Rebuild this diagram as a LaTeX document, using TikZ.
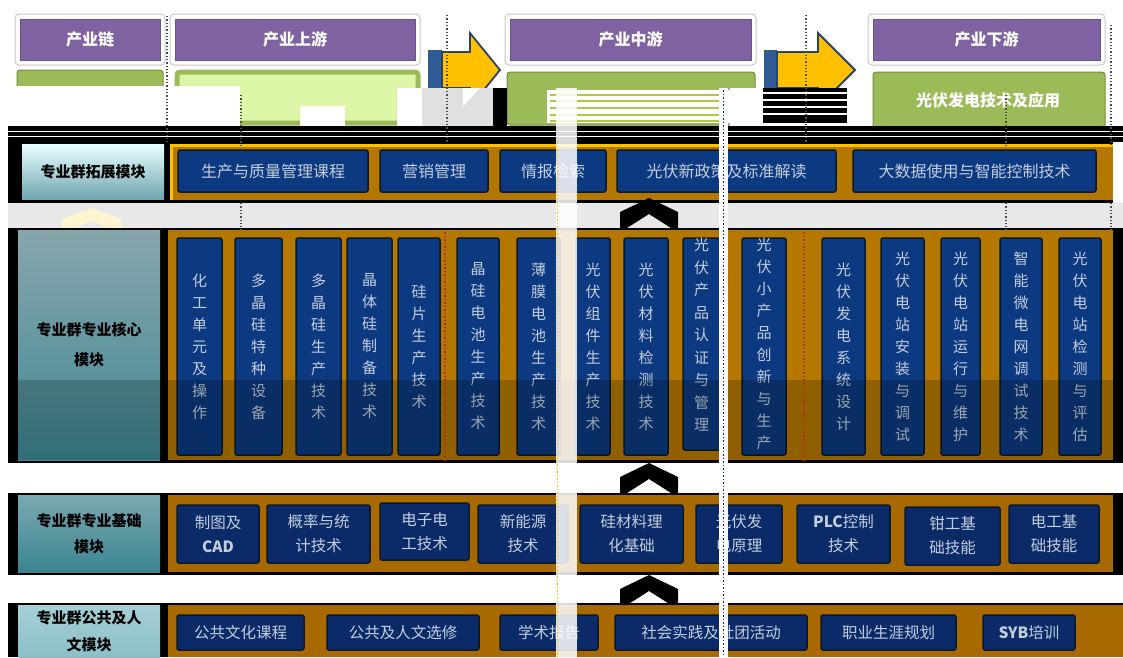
\documentclass[tikz,border=0pt]{standalone}
\usepackage{fontspec}
\setmainfont{Noto Sans CJK SC}
\definecolor{hpurple}{HTML}{7F62A1}
\definecolor{ggreen}{HTML}{9BBB59}
\definecolor{glight}{HTML}{DDF5A6}
\definecolor{orng}{HTML}{B47800}
\definecolor{orng2}{HTML}{A86A00}
\definecolor{oyel}{HTML}{FFC000}
\definecolor{bblue}{HTML}{0C3A80}
\definecolor{bblue2}{HTML}{0B2B68}
\definecolor{bdark}{HTML}{0A1830}
\definecolor{btext}{HTML}{C5CDDD}
\definecolor{arrblue}{HTML}{2F5C94}
\definecolor{arredge}{HTML}{2A4466}
\definecolor{gband}{HTML}{E8E8E8}
\definecolor{reddot}{HTML}{B03020}
\newcommand\boxat[7]{\node[#2,minimum width={#5-#3},minimum height={#6-#4}] (#1) at ({(#3+#5)/2},{(#4+#6)/2}) {#7};}
\tikzset{
 hdrout/.style={draw=black!22, fill=white, rounded corners=4pt, line width=1pt, inner sep=0},
 hdr/.style={fill=hpurple, draw=hpurple!85!black, text=white, font=\fontsize{16}{18}\selectfont\bfseries, inner sep=0},
 grnbox/.style={fill=ggreen, draw=ggreen!75!black, line width=1pt, rounded corners=3pt, inner sep=0},
 bbox/.style={fill=bblue, draw=bdark, line width=1.5pt, rounded corners=2pt, text=btext, inner sep=0, align=center, font=\fontsize{16}{18}\selectfont},
 vbox/.style={bbox, font=\fontsize{15}{22}\selectfont},
 vtx/.style={inner sep=0, align=center, text=btext},
 tbox/.style={bbox, fill=bblue2, font=\fontsize{15.5}{24}\selectfont},
 pbox/.style={bbox, fill=bblue2, font=\fontsize{15.5}{18}\selectfont},
 lab/.style={inner sep=0, align=center, text=black},
 dots/.style={dotted, line width=1.3pt, black!70},
}
\begin{document}
\begin{tikzpicture}[x=1pt,y=-1pt]
\useasboundingbox (0,0) rectangle (1123,657);
\fill[white] (0,0) rectangle (1123,657);

% ---- header row
\boxat{h1o}{hdrout}{15}{14}{165}{65}{}
\boxat{h1}{hdr}{20}{19}{160}{60}{产业链}
\boxat{h2o}{hdrout}{170}{14}{420}{65}{}
\boxat{h2}{hdr}{175}{19}{415}{60}{产业上游}
\boxat{h3o}{hdrout}{505}{14}{756}{65}{}
\boxat{h3}{hdr}{510}{19}{751}{60}{产业中游}
\boxat{h4o}{hdrout}{868}{14}{1105}{65}{}
\boxat{h4}{hdr}{873}{19}{1100}{60}{产业下游}

% ---- green boxes
\boxat{g1}{grnbox}{17}{70}{163}{130}{}
\boxat{g2}{grnbox, fill=glight, draw=ggreen, line width=5pt}{177}{72}{418}{123}{}
\boxat{g3}{grnbox}{507}{72}{755}{125}{}
\boxat{g4}{grnbox}{873}{72}{1105}{128}{}

% ---- arrows
\fill[arrblue] (428,50) rectangle (442,90);
\draw[fill=oyel, draw=arredge, line width=1.8pt, line join=miter] (442,52) -- (470,52) -- (470,33) -- (500,70) -- (470,107) -- (470,88) -- (442,88) -- cycle;
\fill[arrblue] (764,50) rectangle (777,90);
\draw[fill=oyel, draw=arredge, line width=1.8pt, line join=miter] (777,52) -- (818,52) -- (818,33) -- (855,70) -- (818,107) -- (818,88) -- (777,88) -- cycle;

% ---- top artefacts
\fill[white] (8,86) rectangle (240,126);
\fill[white] (300,106) rectangle (345,126);
\fill[white] (397,88) rectangle (422,126);
\fill[black!12] (422,88) rectangle (493,126);
\fill[white] (463,106) -- (480,88) -- (463,88) -- cycle;
\fill[black] (493,88) rectangle (507,126);
\fill[white] (547,90) rectangle (730,123);
\foreach \yy in {95,101,108,115,121}{\draw[ggreen!80!yellow, line width=1.2pt] (550,\yy) -- (725,\yy);}
\fill[white] (730,88) rectangle (763,126);
\fill[black] (763,88) rectangle (847,123);
\foreach \yy in {93,100,107,114}{\draw[white, line width=1.2pt] (763,\yy) -- (847,\yy);}
\node[inner sep=0, text=white, font=\fontsize{16}{18}\selectfont\bfseries] (g4t) at (988,100) {光伏发电技术及应用};

% ---- black band
\fill[black] (8,126) rectangle (1123,142);
\foreach \yy in {131,136}{\draw[white, line width=0.8pt] (8,\yy) -- (1123,\yy);}

% ---- grey band between rows 1 and 2
\fill[gband] (8,203) rectangle (1123,228);
\fill[oyel!18] (62,230) -- (62,219) -- (92,208) -- (121,219) -- (121,230) -- (114,230) -- (92,221) -- (69,230) -- cycle;

% ---- row 1
\fill[black] (8,142) rectangle (1113,203);
\boxat{L1}{lab, top color=cyan!8!white, middle color={rgb,255:red,169;green,211;blue,218}, bottom color={rgb,255:red,111;green,166;blue,176}, font=\fontsize{15}{18}\selectfont\bfseries}{22}{144}{164}{199}{专业群拓展模块}
\fill[orng] (170,144) rectangle (1113,200);
\draw[oyel, line width=3pt] (171.5,200) -- (171.5,145.5) -- (1113,145.5);
\boxat{r1a}{bbox}{178}{150}{368}{192}{生产与质量管理课程}
\boxat{r1b}{bbox}{380}{150}{488}{192}{营销管理}
\boxat{r1c}{bbox}{500}{150}{606}{192}{情报检索}
\boxat{r1d}{bbox}{617}{150}{836}{192}{光伏新政策及标准解读}
\boxat{r1e}{bbox}{853}{150}{1096}{192}{大数据使用与智能控制技术}

% ---- row 2
\fill[black] (8,228) rectangle (1123,463);
\boxat{L2}{lab, top color={rgb,255:red,137;green,165;blue,172}, middle color={rgb,255:red,110;green,158;blue,167}, bottom color={rgb,255:red,63;green,138;blue,149}, font=\fontsize{15}{30}\selectfont\bfseries}{18}{230}{160}{460}{专业群专业核心\\模块}
\fill[orng] (168,230) rectangle (1113,460);
\boxat{v1}{vbox}{177}{238}{222}{455}{化\\工\\单\\元\\及\\操\\作}
\boxat{v2}{vbox}{235}{238}{282}{455}{多\\晶\\硅\\特\\种\\设\\备}
\boxat{v3}{vbox}{296}{238}{341}{455}{多\\晶\\硅\\生\\产\\技\\术}
\boxat{v4}{vbox}{347}{238}{392}{455}{晶\\体\\硅\\制\\备\\技\\术}
\boxat{v5}{vbox}{398}{238}{440}{455}{硅\\片\\生\\产\\技\\术}
\boxat{v6}{vbox}{457}{238}{499}{455}{晶\\硅\\电\\池\\生\\产\\技\\术}
\boxat{v7}{vbox}{517}{238}{560}{455}{薄\\膜\\电\\池\\生\\产\\技\\术}
\boxat{v8}{vbox}{576}{238}{610}{455}{光\\伏\\组\\件\\生\\产\\技\\术}
\boxat{v9}{vbox}{624}{238}{668}{455}{光\\伏\\材\\料\\检\\测\\技\\术}
\boxat{v10}{vbox}{683}{238}{720}{450}{}
\node[vtx, font=\fontsize{15}{22.5}\selectfont] (v10t) at ([yshift=9pt]v10.center) {光\\伏\\产\\品\\认\\证\\与\\管\\理};
\boxat{v11}{vbox}{742}{238}{786}{455}{}
\node[vtx, font=\fontsize{15}{22}\selectfont] (v11t) at ([yshift=3pt]v11.center) {光\\伏\\小\\产\\品\\创\\新\\与\\生\\产};
\boxat{v12}{vbox}{822}{238}{865}{455}{光\\伏\\发\\电\\系\\统\\设\\计}
\boxat{v13}{vbox}{881}{238}{924}{455}{光\\伏\\电\\站\\安\\装\\与\\调\\试}
\boxat{v14}{vbox}{941}{238}{980}{455}{光\\伏\\电\\站\\运\\行\\与\\维\\护}
\boxat{v15}{vbox}{1000}{238}{1042}{455}{智\\能\\微\\电\\网\\调\\试\\技\\术}
\boxat{v16}{vbox}{1059}{238}{1101}{455}{光\\伏\\电\\站\\检\\测\\与\\评\\估}
\fill[black, opacity=0.2] (18,380) rectangle (1113,460);
\draw[reddot, dotted, line width=1.5pt] (445,232) -- (445,460);
\draw[reddot, dotted, line width=1.5pt] (804,232) -- (804,460);

% ---- row 3
\fill[black] (8,493) rectangle (1123,575);
\boxat{L3}{lab, top color={rgb,255:red,122;green,169;blue,177}, bottom color={rgb,255:red,60;green,133;blue,144}, font=\fontsize{15}{26}\selectfont\bfseries}{18}{495}{160}{572}{专业群专业基础\\模块}
\fill[orng2] (168,495) rectangle (1113,572);
\boxat{b1}{tbox}{177}{505}{259}{563}{制图及\\\textbf{CAD}}
\boxat{b2}{tbox}{267}{505}{370}{563}{概率与统\\计技术}
\boxat{b3}{tbox}{380}{503}{469}{560}{电子电\\工技术}
\boxat{b4}{tbox}{478}{505}{568}{563}{新能源\\技术}
\boxat{b5}{tbox}{580}{505}{683}{563}{硅材料理\\化基础}
\boxat{b6}{tbox}{696}{505}{782}{563}{光伏发\\电原理}
\boxat{b7}{tbox}{797}{505}{890}{563}{\textbf{PLC}控制\\技术}
\boxat{b8}{tbox}{905}{507}{1000}{565}{钳工基\\础技能}
\boxat{b9}{tbox}{1009}{505}{1099}{563}{电工基\\础技能}

% ---- row 4
\fill[black] (8,603) rectangle (1123,657);
\boxat{L4}{lab, top color={rgb,255:red,166;green,208;blue,215}, bottom color={rgb,255:red,139;green,191;blue,199}, font=\fontsize{15}{27}\selectfont\bfseries}{18}{605}{160}{657}{专业群公共及人\\文模块}
\fill[orng2] (168,605) rectangle (1123,657);
\boxat{p1}{pbox}{177}{615}{304}{650}{公共文化课程}
\boxat{p2}{pbox}{327}{615}{479}{650}{公共及人文选修}
\boxat{p3}{pbox}{500}{615}{598}{650}{学术报告}
\boxat{p4}{pbox}{615}{615}{807}{650}{社会实践及社团活动}
\boxat{p5}{pbox}{821}{615}{956}{650}{职业生涯规划}
\boxat{p6}{pbox}{983}{615}{1075}{650}{\textbf{SYB}培训}

% ---- chevrons
\foreach \yb in {228,493,605}{
  \fill[black] (620,\yb) -- (620,\yb-16) -- (649,\yb-30) -- (678,\yb-16) -- (678,\yb) -- (671,\yb) -- (649,\yb-14) -- (627,\yb) -- cycle;
}

% ---- vertical white strips and dotted lines
\fill[white, opacity=0.85] (556,88) rectangle (577,657);
\draw[oyel, dotted, line width=1.5pt] (557.5,142) -- (557.5,657);
\fill[white] (719,88) rectangle (728,657);
\draw[bblue2, dotted, line width=1.5pt] (723.5,90) -- (723.5,657);
\draw[dots] (167,16) -- (167,142);
\draw[dots] (241,95) -- (241,145);
\draw[dots] (241,203) -- (241,230);
\draw[dots] (447,15) -- (447,142);
\draw[dots] (806,15) -- (806,142);
\draw[dots] (1006,95) -- (1006,145);
\draw[dots] (1006,203) -- (1006,230);
\draw[dots] (1111,25) -- (1111,145);
\draw[dots] (1111,203) -- (1111,230);
\end{tikzpicture}
\end{document}
